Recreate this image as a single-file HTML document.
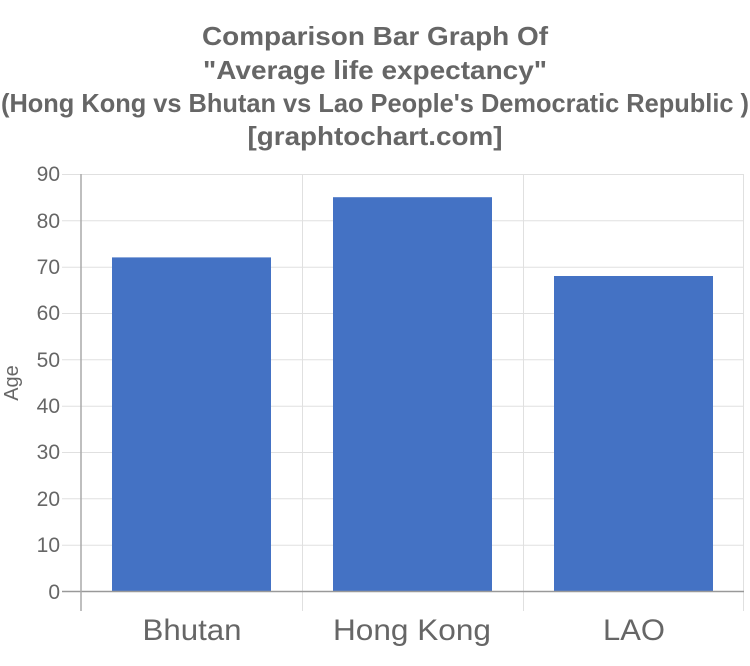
<!DOCTYPE html>
<html><head><style>body{margin:0;background:#fff}svg{display:block}</style></head><body>
<svg width="750" height="666" xmlns="http://www.w3.org/2000/svg" font-family="Liberation Sans, Arial, sans-serif">
<g fill="#666" font-weight="bold" font-size="26" text-anchor="middle">
<text x="375" y="45" textLength="346" lengthAdjust="spacingAndGlyphs">Comparison Bar Graph Of</text>
<text x="375" y="79" textLength="344" lengthAdjust="spacingAndGlyphs">"Average life expectancy"</text>
<text x="375" y="112" textLength="748" lengthAdjust="spacingAndGlyphs">(Hong Kong vs Bhutan vs Lao People's Democratic Republic )</text>
<text x="375" y="145" textLength="255" lengthAdjust="spacingAndGlyphs">[graphtochart.com]</text>
</g>
<g stroke="#e0e0e0" stroke-width="1">
<line x1="62" y1="174.5" x2="744" y2="174.5"/>
<line x1="62" y1="220.8" x2="744" y2="220.8"/>
<line x1="62" y1="267.2" x2="744" y2="267.2"/>
<line x1="62" y1="313.5" x2="744" y2="313.5"/>
<line x1="62" y1="359.8" x2="744" y2="359.8"/>
<line x1="62" y1="406.2" x2="744" y2="406.2"/>
<line x1="62" y1="452.5" x2="744" y2="452.5"/>
<line x1="62" y1="498.8" x2="744" y2="498.8"/>
<line x1="62" y1="545.2" x2="744" y2="545.2"/>
<line x1="302.5" y1="174" x2="302.5" y2="611"/>
<line x1="523.5" y1="174" x2="523.5" y2="611"/>
<line x1="743.5" y1="174" x2="743.5" y2="611"/>
</g>
<g fill="#4472c4">
<rect x="112" y="257.4" width="159" height="334.1"/>
<rect x="333" y="197.2" width="159" height="394.3"/>
<rect x="554" y="276" width="159" height="315.5"/>
</g>
<line x1="62" y1="591.5" x2="744" y2="591.5" stroke="#999" stroke-width="1.5"/>
<line x1="81" y1="174" x2="81" y2="611" stroke="#aaa" stroke-width="1.5"/>
<g fill="#666" font-size="21" text-anchor="end">
<text x="60" y="181">90</text><text x="60" y="228">80</text><text x="60" y="274">70</text>
<text x="60" y="320">60</text><text x="60" y="367">50</text><text x="60" y="413">40</text>
<text x="60" y="459">30</text><text x="60" y="506">20</text><text x="60" y="552">10</text>
<text x="60" y="599">0</text>
</g>
<text transform="translate(18,383) rotate(-90)" fill="#666" font-size="20" text-anchor="middle">Age</text>
<g fill="#666" font-size="30" text-anchor="middle">
<text x="192" y="640" textLength="99" lengthAdjust="spacingAndGlyphs">Bhutan</text><text x="412" y="640" textLength="158" lengthAdjust="spacingAndGlyphs">Hong Kong</text><text x="634" y="640" textLength="62" lengthAdjust="spacingAndGlyphs">LAO</text>
</g>
</svg>
</body></html>
